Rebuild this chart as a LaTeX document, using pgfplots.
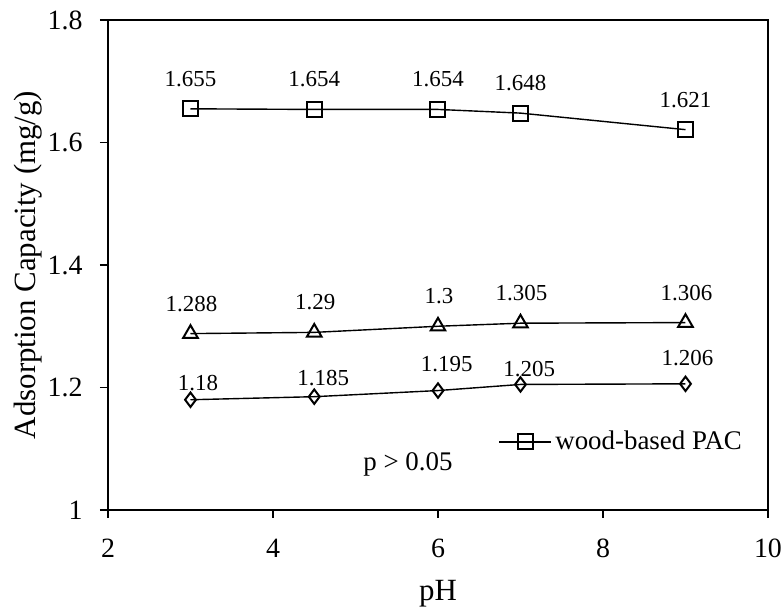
\documentclass[border=0pt]{standalone}
\usepackage{fontspec}
\setmainfont{Liberation Serif}
\usepackage{pgfplots}
\usepackage{pgfplotstable}
\pgfplotsset{compat=1.18}

% pH, capacity, printed value, label offsets (bp)
\pgfplotstableread{
x   y     lab    dx    dy
3   1.655 1.655  0     11.25
4.5 1.654 1.654  0     11.25
6   1.654 1.654  0     11.25
7   1.648 1.648  0     11.25
9   1.621 1.621  0     11.25
}\wood
\pgfplotstableread{
x   y     lab    dx    dy
3   1.288 1.288  0.5   11.25
4.5 1.290 1.29   0.5   11.25
6   1.300 1.3    0.5   11.25
7   1.305 1.305  0.5   11.25
9   1.306 1.306  0.5   11.25
}\tri
\pgfplotstableread{
x   y     lab    dx    dy
3   1.180 1.18   3.75  4.5
4.5 1.185 1.185  4.5   5.35
6   1.195 1.195  4.35  9.5
7   1.205 1.205  4.35  4.2
9   1.206 1.206  1     9
}\dia

\begin{document}
\begin{tikzpicture}
\begin{axis}[
  scale only axis,
  width=330bp, height=245bp,
  xmin=2, xmax=10, ymin=1, ymax=1.8,
  xtick={2,4,6,8,10},
  ytick={1,1.2,1.4,1.6,1.8},
  tick pos=left,
  tick align=outside,
  major tick length=4bp,
  axis line style={line width=0.8bp},
  every tick/.style={black, line width=0.8bp},
  /pgf/number format/assume math mode=true,
  ticklabel style={font=\fontsize{14}{16}\selectfont, inner sep=0pt},
  xticklabel style={anchor=base, yshift=-19.5bp},
  yticklabel style={anchor=east, xshift=-8.5bp},
  xlabel={pH},
  ylabel={Adsorption Capacity (mg/g)},
  every axis x label/.style={at={(axis description cs:0.5,-0.1837)}, anchor=base,
    inner sep=0pt, font=\fontsize{15.5}{18}\selectfont},
  every axis y label/.style={at={(axis description cs:-0.1106,0.5)}, anchor=base, rotate=90,
    inner sep=0pt, font=\fontsize{15.5}{18}\selectfont},
  legend style={at={(0.591,0.139)}, anchor=west, draw=none, fill=none, inner sep=0pt,
    font=\fontsize{13.5}{15}\selectfont,
    nodes={inner sep=1.75bp}},
  legend cell align=left,
  legend image code/.code={\draw[mark repeat=2, mark phase=2, #1] plot coordinates {(0bp,0bp) (13bp,0bp) (26bp,0bp)};},
  point meta=explicit symbolic,
  nodes near coords,
  visualization depends on={\thisrow{dx} \as \dx},
  visualization depends on={\thisrow{dy} \as \dy},
  nodes near coords style={anchor=base, inner sep=0pt, xshift=\dx bp, yshift=\dy bp,
    font=\fontsize{11.5}{13}\selectfont, black},
  every axis plot/.append style={black, line width=0.7bp, mark options={solid, line width=1bp, fill=white}},
]
\coordinate (sw) at (rel axis cs:0,0);
\addplot[mark=square, mark size=3.75bp] table[x=x, y=y, meta=lab] {\wood};
\addlegendentry{wood-based PAC}
\addplot[mark=triangle, mark size=4.2bp, forget plot] table[x=x, y=y, meta=lab] {\tri};
\addplot[mark=diamond, mark size=3.6bp, forget plot] table[x=x, y=y, meta=lab] {\dia};
\node[anchor=base, inner sep=0pt, font=\fontsize{13.5}{16}\selectfont] at (axis cs:5.636,1.065) {p > 0.05};
\end{axis}
\pgfresetboundingbox
\path (sw) ++(-54bp,-49.5bp) rectangle ++(392bp,304.5bp);
\end{tikzpicture}
\end{document}
